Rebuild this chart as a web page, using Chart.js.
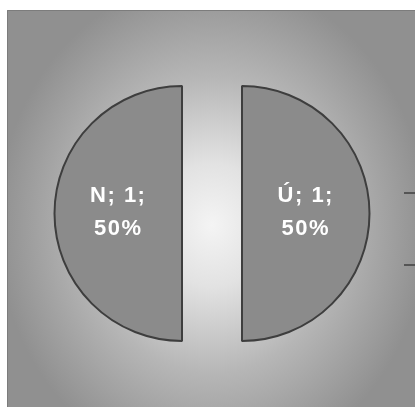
<!DOCTYPE html>
<html>
<head>
<meta charset="utf-8">
<script src="https://cdn.jsdelivr.net/npm/chart.js@4"></script>
<style>
  html, body { margin: 0; padding: 0; background: #ffffff; }
  #wrap { width: 415px; height: 407px; position: relative; }
</style>
</head>
<body>
<div id="wrap"><canvas id="c" width="415" height="407"></canvas></div>
<script>
// Categories and their counts
const categories = ['N', 'Ú'];
const counts = [1, 1];

// Grey panel with a bright centre behind the pie
const panelBackground = {
  id: 'panelBackground',
  beforeDraw(chart) {
    const ctx = chart.ctx;
    const W = chart.width, H = chart.height;
    ctx.save();
    ctx.fillStyle = '#ffffff';
    ctx.fillRect(0, 0, W, H);
    const px = 7, py = 10;
    const cx = 212, cy = 225;
    ctx.beginPath();
    ctx.rect(px, py, W - px, H - py);
    ctx.clip();
    ctx.translate(cx, cy);
    ctx.scale(1, 1.15);
    const g = ctx.createRadialGradient(0, 0, 0, 0, 0, 215);
    g.addColorStop(0, '#f4f4f4');
    g.addColorStop(0.25, '#e2e2e2');
    g.addColorStop(0.6, '#b6b6b6');
    g.addColorStop(1, '#909090');
    ctx.fillStyle = g;
    ctx.fillRect(-cx, -cy / 1.15 - 20, W + 20, H);
    ctx.restore();
    // panel edge
    ctx.save();
    ctx.strokeStyle = '#7c7c7c';
    ctx.lineWidth = 1;
    ctx.beginPath();
    ctx.moveTo(px + 0.5, H);
    ctx.lineTo(px + 0.5, py + 0.5);
    ctx.lineTo(W, py + 0.5);
    ctx.stroke();
    // legend stubs peeking in at the right edge
    ctx.strokeStyle = '#555555';
    ctx.lineWidth = 2;
    ctx.beginPath();
    ctx.moveTo(404, 193); ctx.lineTo(415, 193);
    ctx.moveTo(404, 265); ctx.lineTo(415, 265);
    ctx.stroke();
    ctx.restore();
  }
};

// Draws every slice pulled straight out along its mid-angle (exploded pie)
const explode = {
  id: 'explode',
  beforeDatasetDraw(chart, args, opts) {
    const ctx = chart.ctx;
    const shift = opts.distance || 0;
    args.meta.data.forEach(arc => {
      const p = arc.getProps(['startAngle', 'endAngle'], true);
      const mid = (p.startAngle + p.endAngle) / 2;
      ctx.save();
      ctx.translate(Math.cos(mid) * shift, Math.sin(mid) * shift);
      arc.draw(ctx, chart.chartArea);
      ctx.restore();
    });
    return false;
  }
};

// "Category; count;" and share labels inside each slice
const sliceLabels = {
  id: 'sliceLabels',
  afterDatasetsDraw(chart) {
    const ctx = chart.ctx;
    const meta = chart.getDatasetMeta(0);
    const data = chart.data.datasets[0].data;
    const total = data.reduce((a, b) => a + b, 0);
    const shift = chart.options.plugins.explode.distance || 0;
    ctx.save();
    ctx.fillStyle = '#ffffff';
    ctx.font = 'bold 22px "Liberation Sans", Arial, sans-serif';
    ctx.letterSpacing = '1.5px';
    ctx.textAlign = 'center';
    ctx.textBaseline = 'alphabetic';
    meta.data.forEach((arc, i) => {
      const p = arc.getProps(['x', 'y', 'startAngle', 'endAngle', 'outerRadius'], true);
      const mid = (p.startAngle + p.endAngle) / 2;
      const r = shift + p.outerRadius / 2;
      const x = p.x + Math.cos(mid) * r;
      const y = p.y + Math.sin(mid) * r;
      const pct = Math.round(data[i] / total * 100);
      ctx.fillText(chart.data.labels[i] + '; ' + data[i] + ';', x, y - 11.5);
      ctx.fillText(pct + '%', x, y + 21.5);
    });
    ctx.restore();
  }
};

new Chart(document.getElementById('c'), {
  type: 'pie',
  data: {
    labels: categories,
    datasets: [{
      data: counts,
      backgroundColor: '#8b8b8b',
      borderColor: '#3e3e3e',
      borderWidth: 2
    }]
  },
  options: {
    responsive: false,
    animation: false,
    rotation: 180,
    layout: { padding: { left: 83.5, right: 74.5, top: 85, bottom: 65 } },
    plugins: {
      legend: { display: false },
      tooltip: { enabled: false },
      explode: { distance: 30 }
    }
  },
  plugins: [panelBackground, explode, sliceLabels]
});
</script>
</body>
</html>
